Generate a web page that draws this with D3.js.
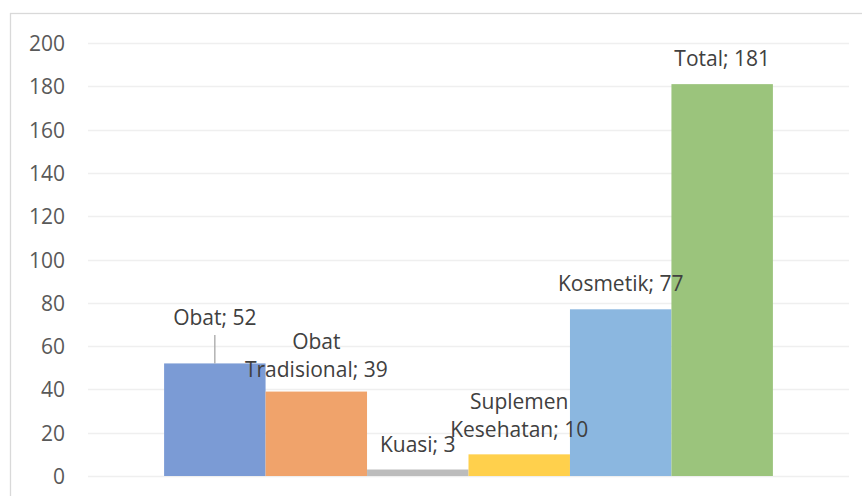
<!DOCTYPE html>
<html>
<head>
<meta charset="utf-8">
<script src="https://cdn.jsdelivr.net/npm/d3@7"></script>
<style>
  body { margin: 0; background: #fff; }
  text { font-family: "Open Sans", "Liberation Sans", sans-serif; }
</style>
</head>
<body>
<div id="chart"></div>
<script>
var width = 862, height = 496;

// data
var series = ["Obat", "Obat Tradisional", "Kuasi", "Suplemen Kesehatan", "Kosmetik", "Total"];
var values = [52, 39, 3, 10, 77, 181];
var colors = ["#7b9bd5", "#f0a36b", "#bcbcbc", "#ffd04c", "#8bb7e0", "#9bc47c"];
// label lines as Excel wrapped them
var labelLines = [["Obat; 52"], ["Obat", "Tradisional; 39"], ["Kuasi; 3"], ["Suplemen", "Kesehatan; 10"], ["Kosmetik; 77"], ["Total; 181"]];
var ticks = [0, 20, 40, 60, 80, 100, 120, 140, 160, 180, 200];

var plot = { left: 88, right: 849, top: 43, bottom: 476 };

var svg = d3.select("#chart").append("svg")
    .attr("width", width).attr("height", height);

// chart frame (right and bottom run off the picture)
svg.append("rect")
    .attr("x", 10.5).attr("y", 13.5)
    .attr("width", 900).attr("height", 600)
    .attr("fill", "none").attr("stroke", "#d9d9d9").attr("stroke-width", 1.3);

var y = d3.scaleLinear().domain([0, 200]).range([plot.bottom, plot.top]);

// one category, six series, gap width 150%
var x0 = d3.scaleBand().domain(["all"]).range([plot.left, plot.right]).paddingInner(0).paddingOuter(0);
var groupW = x0.bandwidth();
var barW = groupW / (series.length + 1.5);
var start = plot.left + barW * 0.75;
var x = d3.scaleBand().domain(series).range([start, start + barW * series.length]);

// gridlines
svg.append("g").selectAll("line").data(ticks).enter().append("line")
    .attr("x1", plot.left).attr("x2", plot.right)
    .attr("y1", function(d) { return Math.round(y(d)) + 0.5; })
    .attr("y2", function(d) { return Math.round(y(d)) + 0.5; })
    .attr("stroke", "#efefef").attr("stroke-width", 1.3);

// y axis labels
var yAxis = d3.axisLeft(y).tickValues(ticks).tickSize(0).tickPadding(0);
var ga = svg.append("g").attr("transform", "translate(65,0)").call(yAxis);
ga.select(".domain").remove();
ga.selectAll("text")
    .attr("fill", "#595959")
    .style("font-size", "21px")
    .style("font-family", "'Open Sans', sans-serif")
    .attr("dy", "0.36em");

// bars
svg.append("g").selectAll("rect").data(values).enter().append("rect")
    .attr("x", function(d, i) { return x(series[i]); })
    .attr("width", x.bandwidth())
    .attr("y", function(d) { return y(d); })
    .attr("height", function(d) { return y(0) - y(d); })
    .attr("fill", function(d, i) { return colors[i]; });

// leader line for first label
svg.append("line")
    .attr("x1", x("Obat") + x.bandwidth() / 2).attr("x2", x("Obat") + x.bandwidth() / 2)
    .attr("y1", 335).attr("y2", y(values[0]))
    .attr("stroke", "#a6a6a6").attr("stroke-width", 1.3);

// data labels: baseline of last line
var labelBase = [325, 377, 452, 437, 291, 66];
var lineH = 28.5;
labelLines.forEach(function(lines, i) {
    var cx = x(series[i]) + x.bandwidth() / 2;
    var t = svg.append("text")
        .attr("text-anchor", "middle")
        .attr("fill", "#404040")
        .style("font-size", "21px");
    lines.forEach(function(l, j) {
        t.append("tspan")
            .attr("x", cx)
            .attr("y", labelBase[i] - (lines.length - 1 - j) * lineH)
            .text(l);
    });
});
</script>
</body>
</html>
